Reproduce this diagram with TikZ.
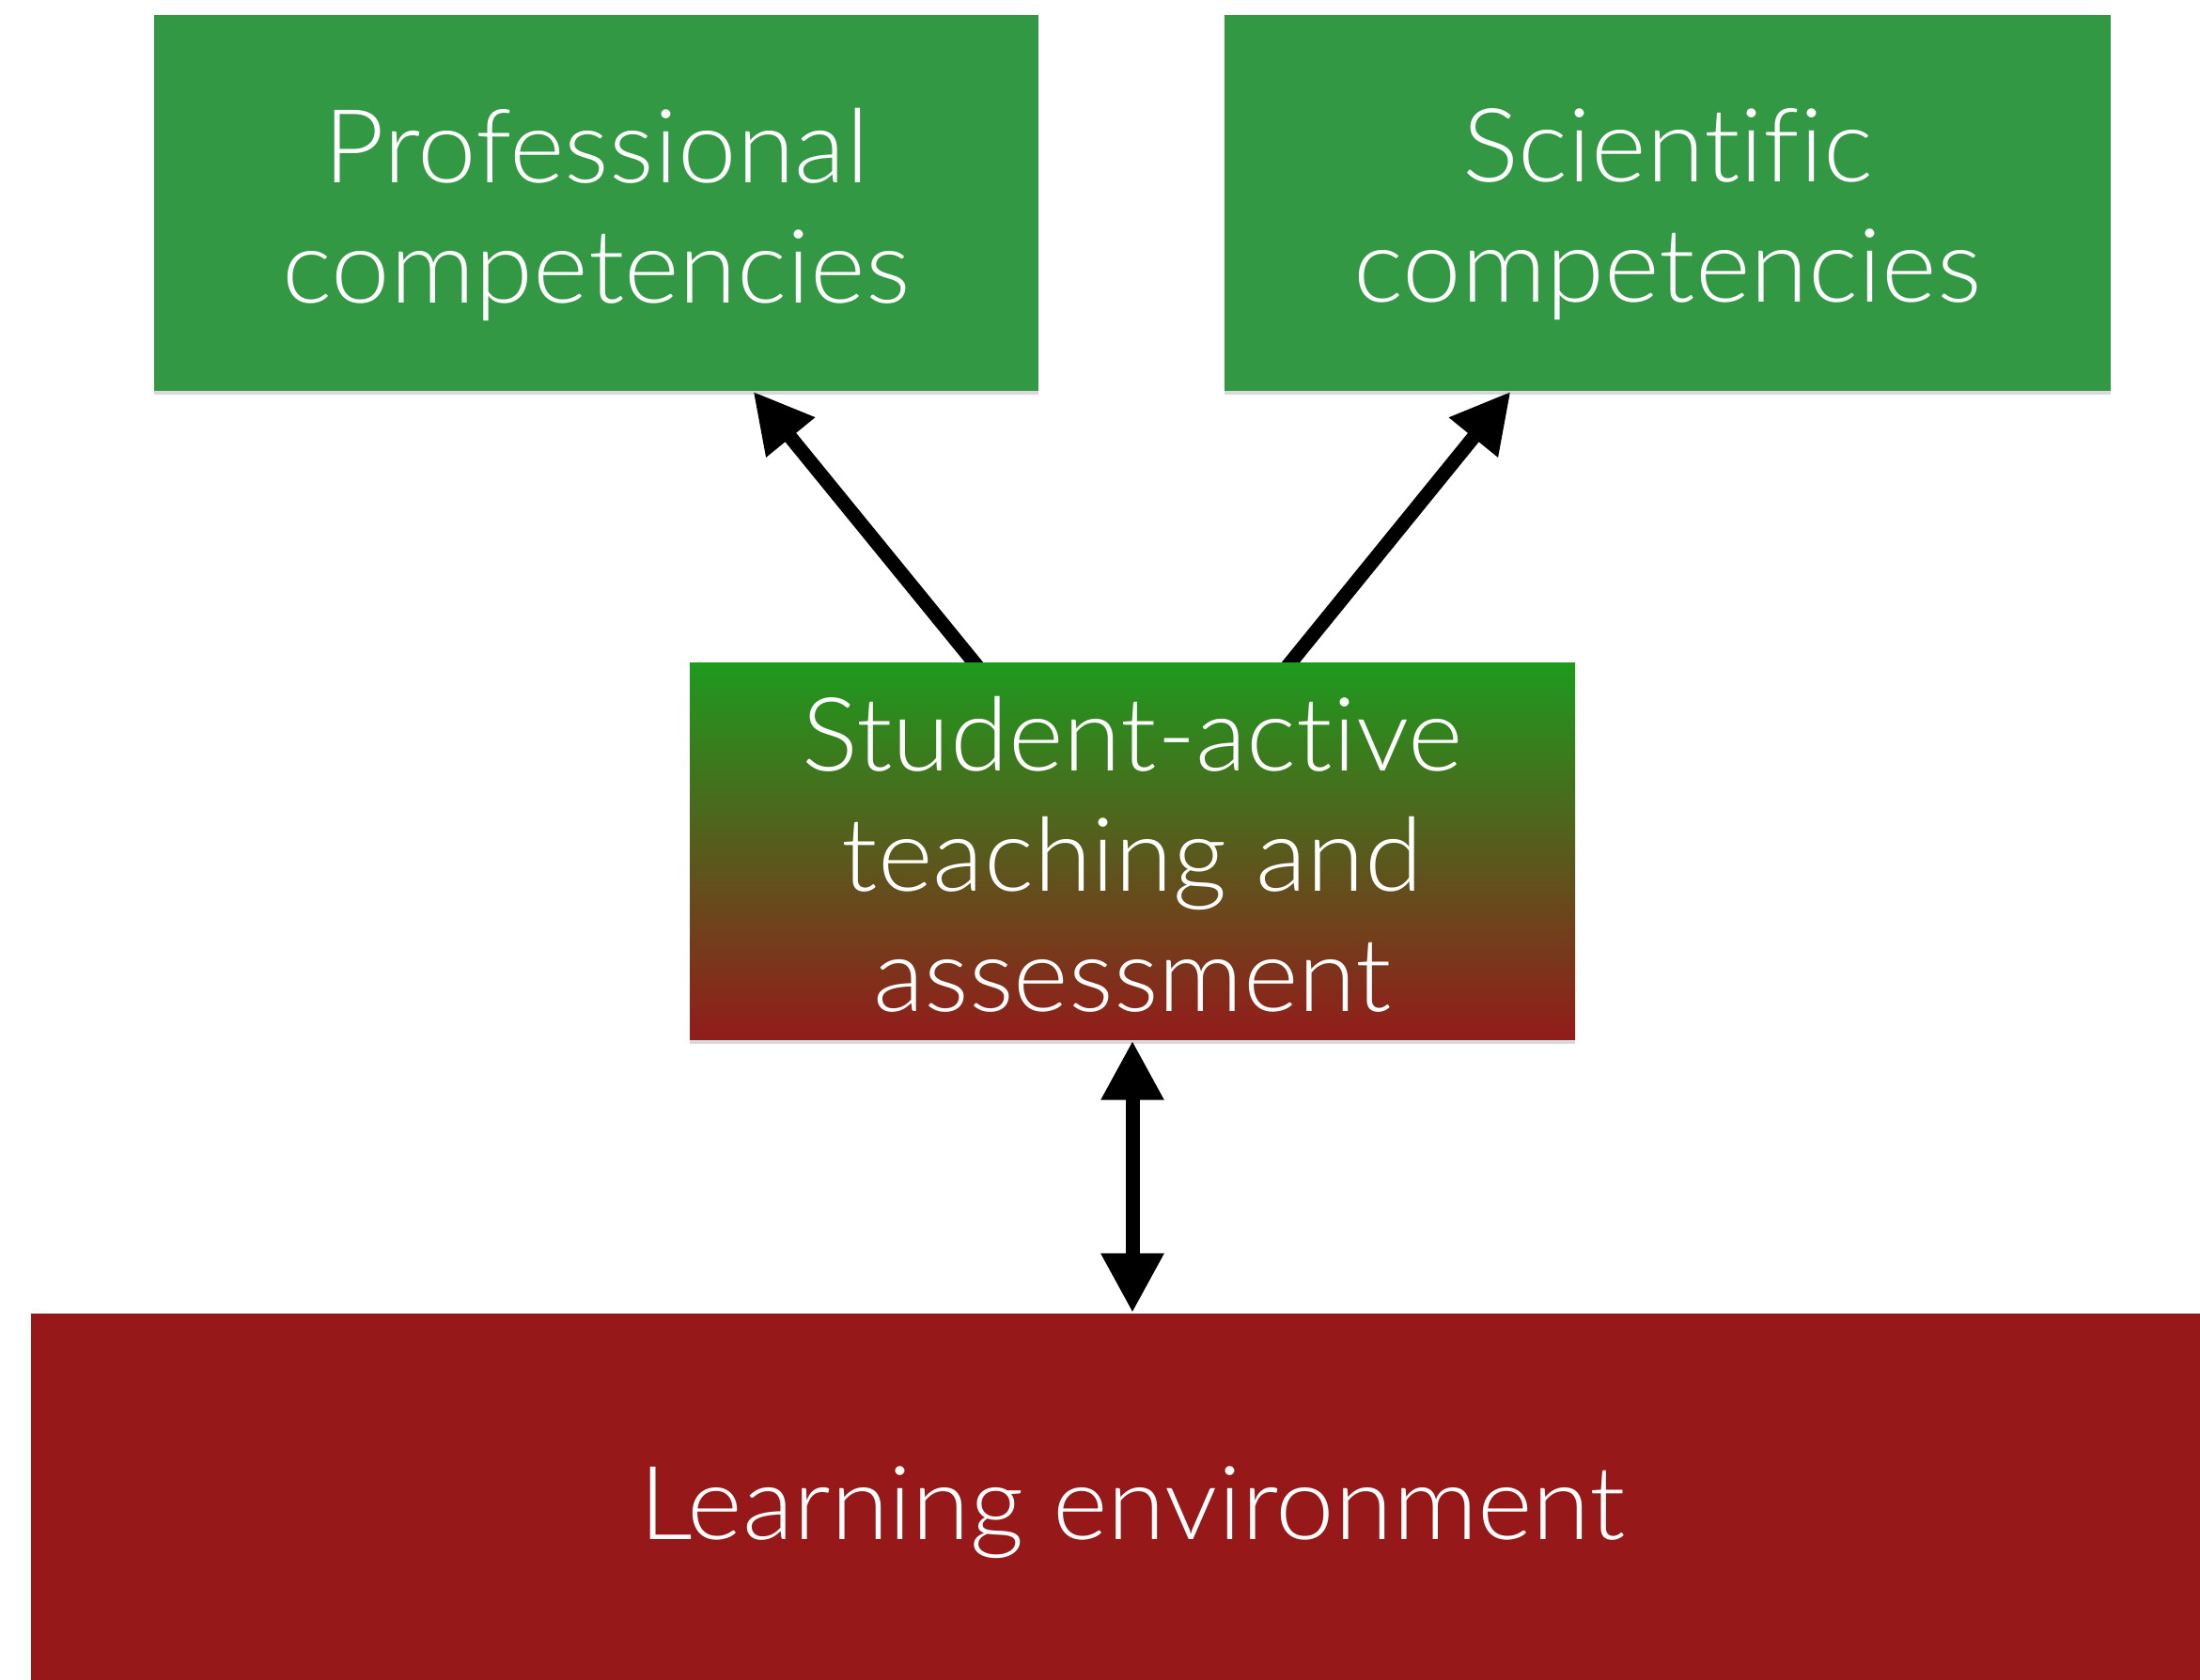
\documentclass[tikz,border=0pt]{standalone}
\usepackage{fontspec}
\IfFontExistsTF{Lato Light}{\setmainfont{Lato Light}[Ligatures={NoCommon}, FakeStretch=1.03]}{\setmainfont{Liberation Sans}}
\usetikzlibrary{arrows.meta,shadows}
\pgfdeclarelayer{bg}
\pgfsetlayers{bg,main}
\definecolor{cgreen}{RGB}{50,152,68}
\definecolor{cred}{RGB}{150,24,24}
\definecolor{gtop}{RGB}{30,154,30}
\definecolor{gbot}{RGB}{147,27,26}
\begin{document}
\begin{tikzpicture}[
  box/.style={rectangle, inner sep=0pt, draw=none,
    drop shadow={shadow xshift=0cm, shadow yshift=-0.04cm, opacity=0.3}},
  lbl/.style={text=white, font=\fontsize{31}{36.4}\selectfont, align=center, inner sep=0pt},
  arr/.style={line width=0.15cm, -{Triangle[length=0.63cm,width=0.63cm]}},
  darr/.style={line width=0.15cm, {Triangle[length=0.63cm,width=0.63cm]}-{Triangle[length=0.63cm,width=0.63cm]}}
]
\useasboundingbox (0,0) rectangle (23.41,-17.88);
% boxes
\node[box, fill=cgreen, minimum width=9.41cm, minimum height=4.0cm] (PC) at (6.345,-2.16) {};
\node[box, fill=cgreen, minimum width=9.43cm, minimum height=4.0cm] (SC) at (17.745,-2.16) {};
\node[box, top color=gtop, bottom color=gbot, minimum width=9.42cm, minimum height=4.01cm] (STA) at (12.05,-9.065) {};
\node[box, fill=cred, minimum width=23.68cm, minimum height=4.3cm, anchor=north west] (LE) at (0.32,-13.97) {};
% labels
\node[lbl] (PCt) at ([yshift=-0.125cm]PC.center) {Professional\\competencies};
\node[lbl] (SCt) at ([yshift=-0.125cm]SC.center) {Scientific\\competencies};
\node[lbl] (STAt) at ([yshift=-0.025cm]STA.center) {Student-active\\teaching and\\assessment};
\node[lbl, anchor=base] (LEt) at (12.05,-16.38) {Learning environment};
% connectors
\begin{pgfonlayer}{bg}
\draw[arr] ([xshift=-1.56cm, yshift=-0.15cm]STA.north) -- ([xshift=1.67cm]PC.south);
\draw[arr] ([xshift=1.56cm, yshift=-0.15cm]STA.north) -- ([xshift=-1.67cm]SC.south);
\end{pgfonlayer}
\draw[darr] (STA.south) -- (STA.south |- LE.north);
\end{tikzpicture}
\end{document}
